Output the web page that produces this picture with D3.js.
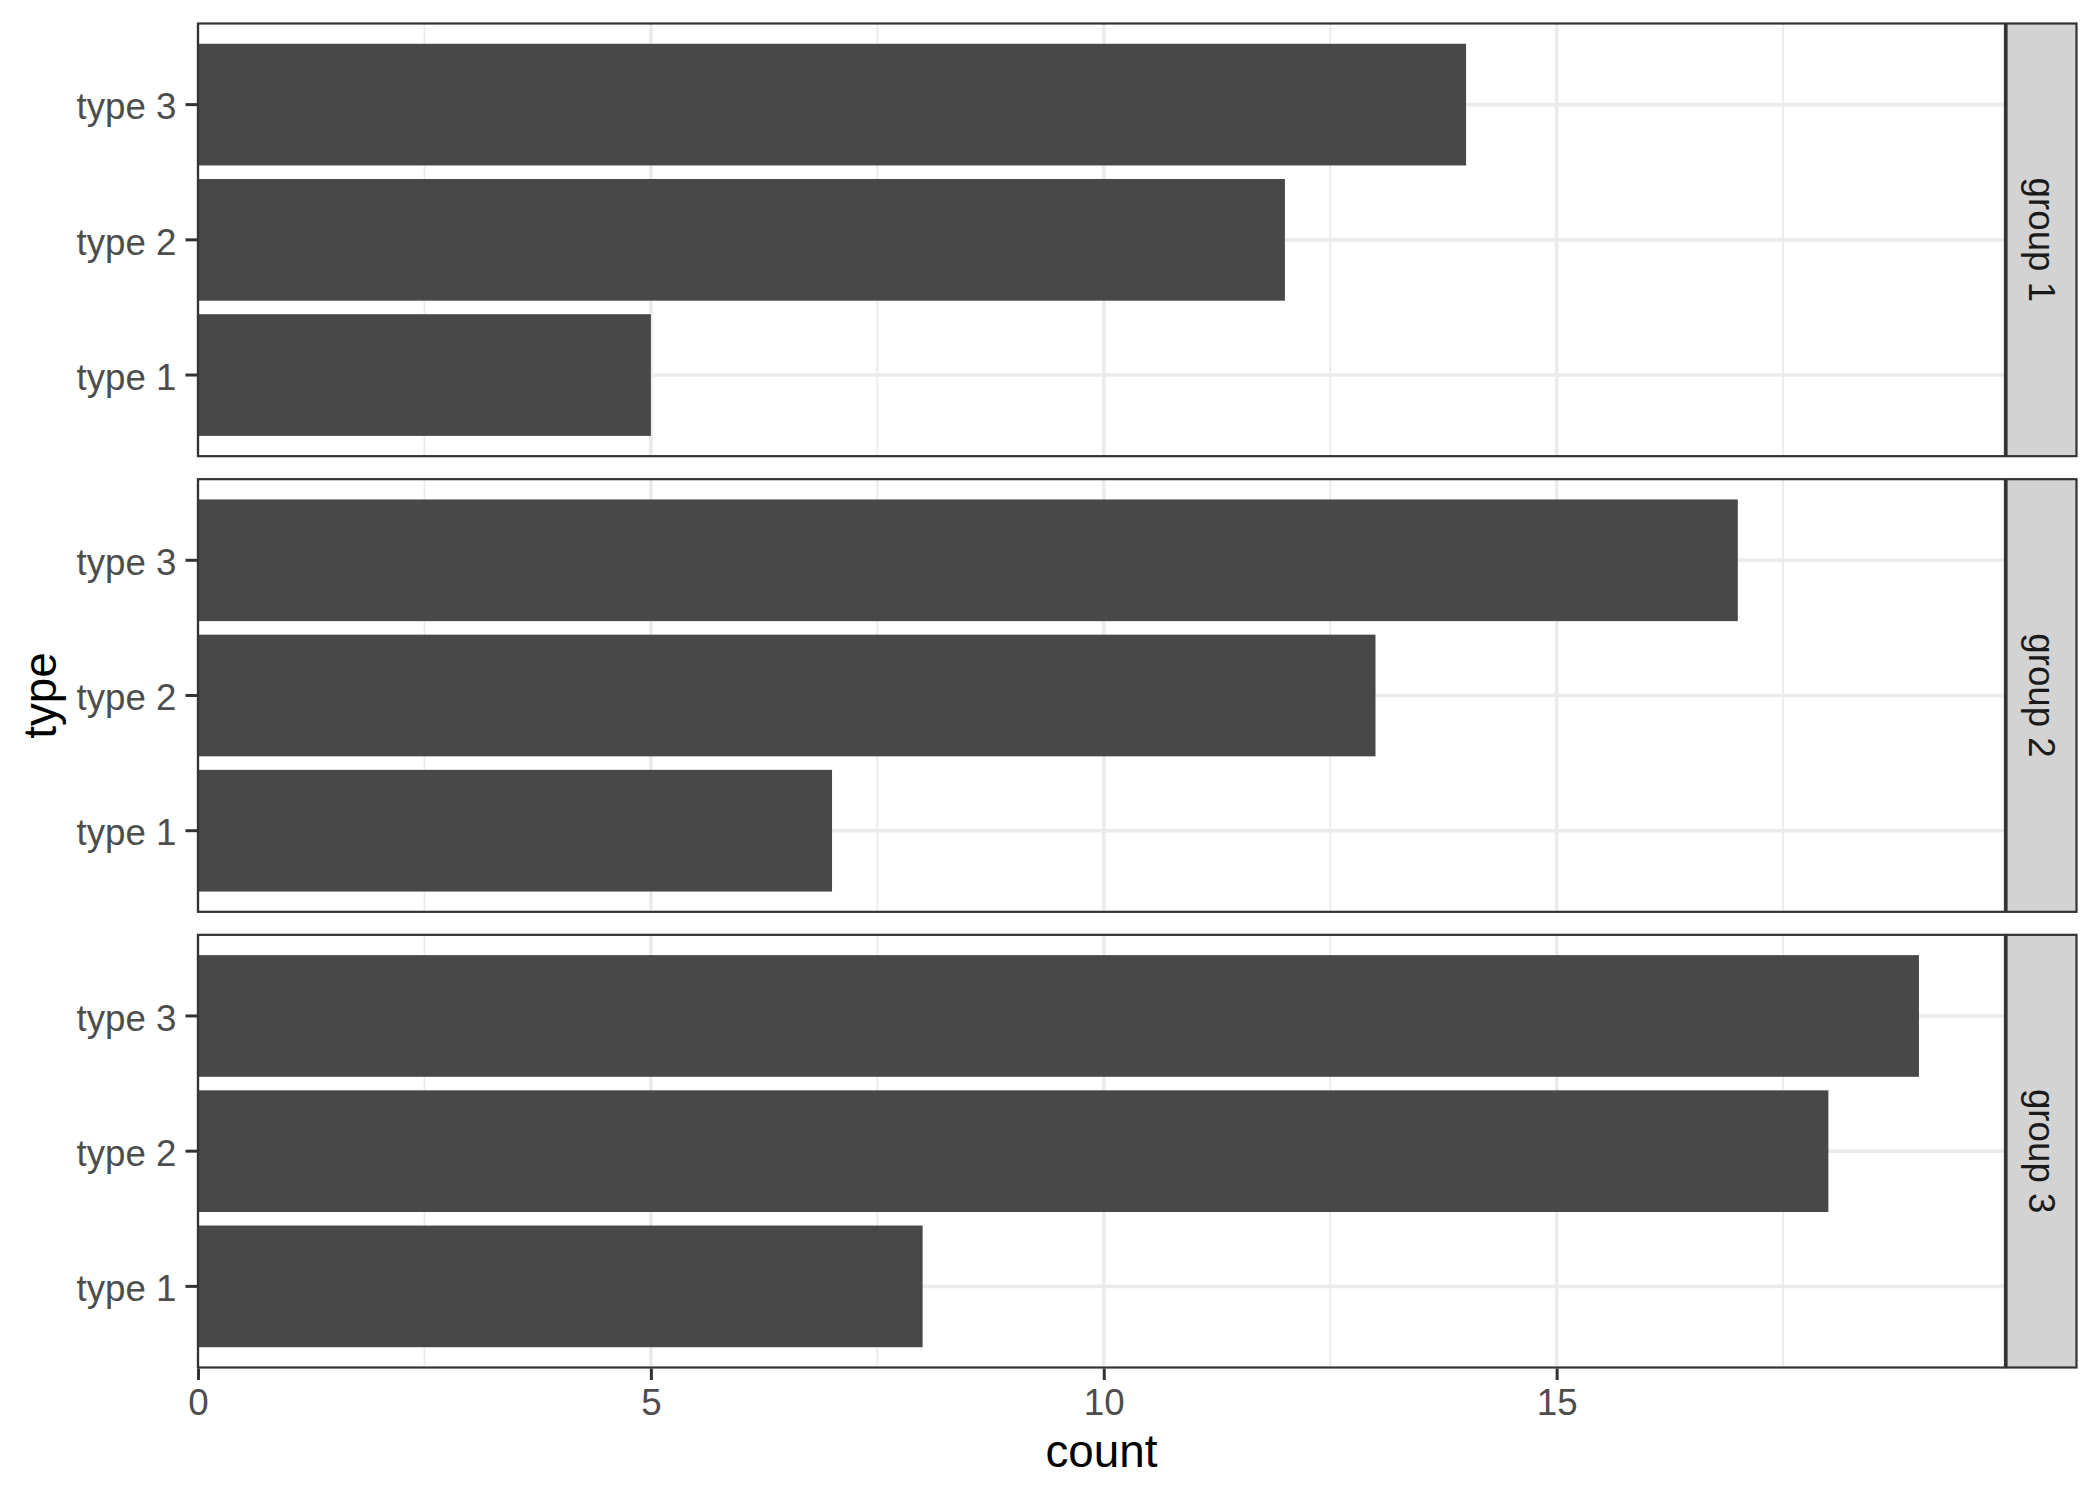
<!DOCTYPE html>
<html>
<head>
<meta charset="utf-8">
<script src="https://cdn.jsdelivr.net/npm/d3@7"></script>
<style>
  html, body { margin: 0; padding: 0; background: #fff; }
  svg text { font-family: "Liberation Sans", Arial, Helvetica, sans-serif; }
</style>
</head>
<body>
<svg id="chart" width="2100" height="1500"></svg>
<script>
const groups = ["group 1", "group 2", "group 3"];
const types = ["type 1", "type 2", "type 3"];
const group1Counts = [5, 12, 14];
const group2Counts = [7, 13, 17];
const group3Counts = [8, 18, 19];
const xTicks = [0, 5, 10, 15];
const xMinorTicks = [2.5, 7.5, 12.5, 17.5];
const xTitle = "count";
const yTitle = "type";

const countsByGroup = [group1Counts, group2Counts, group3Counts];
const data = [];
groups.forEach((g, gi) => types.forEach((t, ti) => data.push({group: g, type: t, count: countsByGroup[gi][ti]})));

const W = 2100, H = 1500;
const panelLeft = 198, panelRight = 2005;
const stripW = 70;
const panelTop = 23.5, panelBottom = 1367.5, gap = 23;
const panelH = (panelBottom - panelTop - 2 * gap) / 3;
const fs = 36.7, titleFs = 45.8;

const svg = d3.select("#chart");
const maxCount = d3.max(data, d => d.count);
const x = d3.scaleLinear().domain([0, maxCount * 1.05]).range([panelLeft, panelRight]);
const y = d3.scaleBand().domain(types.slice().reverse()).range([0, panelH]).paddingInner(0.1).paddingOuter(0.15);

groups.forEach((g, gi) => {
  const top = panelTop + gi * (panelH + gap);
  const p = svg.append("g").attr("transform", `translate(0,${top})`);
  p.append("rect").attr("x", panelLeft).attr("y", 0).attr("width", panelRight - panelLeft).attr("height", panelH).attr("fill", "#fff");
  p.selectAll("line.minor").data(xMinorTicks).enter().append("line")
    .attr("x1", d => x(d)).attr("x2", d => x(d)).attr("y1", 0).attr("y2", panelH)
    .attr("stroke", "#EBEBEB").attr("stroke-width", 1.8);
  p.selectAll("line.majx").data(xTicks).enter().append("line")
    .attr("x1", d => x(d)).attr("x2", d => x(d)).attr("y1", 0).attr("y2", panelH)
    .attr("stroke", "#EBEBEB").attr("stroke-width", 3.6);
  p.selectAll("line.majy").data(types).enter().append("line")
    .attr("x1", panelLeft).attr("x2", panelRight)
    .attr("y1", d => y(d) + y.bandwidth() / 2).attr("y2", d => y(d) + y.bandwidth() / 2)
    .attr("stroke", "#EBEBEB").attr("stroke-width", 3.6);
  p.selectAll("rect.bar").data(data.filter(d => d.group === g)).enter().append("rect")
    .attr("x", x(0)).attr("y", d => y(d.type))
    .attr("width", d => x(d.count) - x(0)).attr("height", y.bandwidth())
    .attr("fill", "#484848");
  p.append("rect").attr("x", panelLeft).attr("y", 0).attr("width", panelRight - panelLeft).attr("height", panelH)
    .attr("fill", "none").attr("stroke", "#333333").attr("stroke-width", 2.2);
  const ya = p.append("g").attr("transform", `translate(${panelLeft - 1},0)`)
    .call(d3.axisLeft(y).tickSize(11.5).tickPadding(9));
  ya.select(".domain").remove();
  ya.selectAll(".tick line").attr("stroke", "#333333").attr("stroke-width", 3);
  ya.selectAll(".tick text").attr("fill", "#4D4D4D").attr("font-size", fs).attr("font-family", null).attr("dy", "0.4em");
  const sg = p.append("g");
  sg.append("rect").attr("x", panelRight + 1.5).attr("y", 0).attr("width", stripW).attr("height", panelH)
    .attr("fill", "#D3D3D3").attr("stroke", "#333333").attr("stroke-width", 2.2);
  sg.append("text").attr("transform", `translate(${panelRight + 1.5 + stripW / 2},${panelH / 2}) rotate(90)`)
    .attr("text-anchor", "middle").attr("dy", "0.35em")
    .attr("fill", "#1A1A1A").attr("font-size", fs).text(g);
});

const xa = svg.append("g").attr("transform", `translate(0,${panelBottom + 1})`)
  .call(d3.axisBottom(x).tickValues(xTicks).tickSize(11.5).tickPadding(9).tickFormat(d3.format("d")));
xa.select(".domain").remove();
xa.selectAll(".tick line").attr("stroke", "#333333").attr("stroke-width", 3);
xa.selectAll(".tick text").attr("fill", "#4D4D4D").attr("font-size", fs).attr("font-family", null);

svg.append("text").attr("x", (panelLeft + panelRight) / 2).attr("y", 1467)
  .attr("text-anchor", "middle").attr("font-size", titleFs).attr("fill", "#000").text(xTitle);
svg.append("text").attr("transform", `translate(${23 + 33},${(panelTop + panelBottom) / 2}) rotate(-90)`)
  .attr("text-anchor", "middle").attr("font-size", titleFs).attr("fill", "#000").text(yTitle);
</script>
</body>
</html>
